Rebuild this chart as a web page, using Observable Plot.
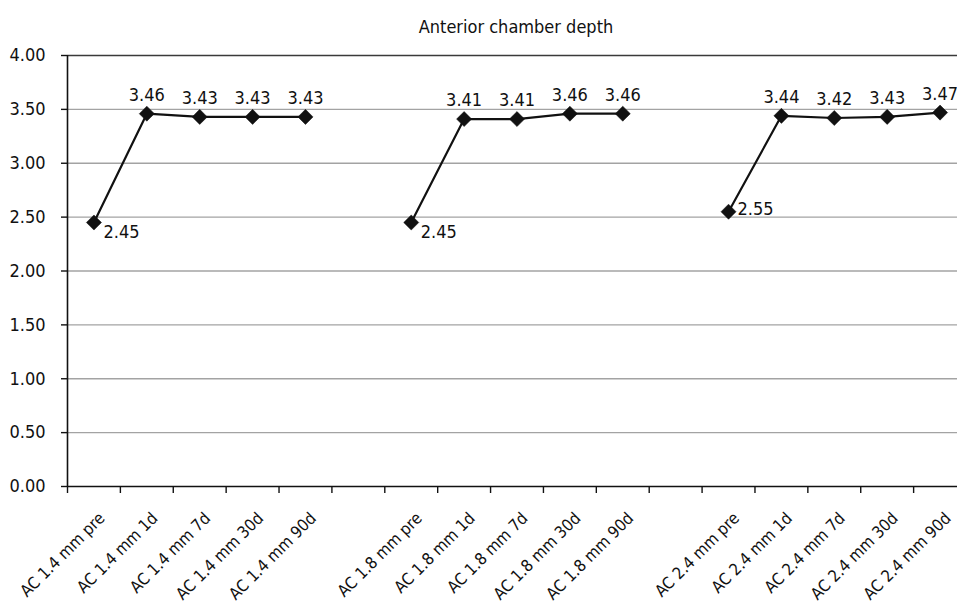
<!DOCTYPE html>
<html>
<head>
<meta charset="utf-8">
<script src="https://cdn.jsdelivr.net/npm/d3@7"></script>
<script src="https://cdn.jsdelivr.net/npm/@observablehq/plot@0.6"></script>
<style>
  html, body { margin: 0; padding: 0; background: #fff; overflow: hidden; }
  #title {
    height: 40px; box-sizing: border-box; padding-top: 16px; padding-left: 75px;
    text-align: center; font-family: "DejaVu Sans Condensed", "DejaVu Sans", sans-serif;
    font-stretch: condensed; font-size: 18px; line-height: 21px; color: #111; width: 957px;
  }
</style>
</head>
<body>
<div id="title">Anterior chamber depth</div>
<div id="chart"></div>
<script>
// ---- data ----
const groups = ["1.4", "1.8", "2.4"];
const timepoints = ["pre", "1d", "7d", "30d", "90d"];
const values14 = [2.45, 3.46, 3.43, 3.43, 3.43];
const values18 = [2.45, 3.41, 3.41, 3.46, 3.46];
const values24 = [2.55, 3.44, 3.42, 3.43, 3.47];
const yTicks = [0, 0.5, 1, 1.5, 2, 2.5, 3, 3.5, 4];
// where the "pre" value label sits, per group (style only)
const preLabelPlacement = {"1.4": "below", "1.8": "below", "2.4": "right"};

const seriesValues = [values14, values18, values24];
const rows = [];
groups.forEach((g, gi) => {
  timepoints.forEach((t, ti) => {
    rows.push({group: g, time: t, index: gi * 6 + ti, value: seriesValues[gi][ti], label: `AC ${g} mm ${t}`});
  });
});
const slotCount = groups.length * 6 - 1;
const boundaries = d3.range(slotCount + 1).map(i => i - 0.5);

const font = '"DejaVu Sans Condensed", "DejaVu Sans", sans-serif';
const ink = "#111";

const chart = Plot.plot({
  width: 957,
  height: 570,
  marginLeft: 67,
  marginRight: 0,
  marginTop: 15,
  marginBottom: 124,
  x: {domain: [-0.5, slotCount - 0.5], range: [67, 966], axis: null, label: null},
  y: {domain: [0, 4], axis: null, label: null},
  style: {fontFamily: font, fontSize: "18px", fontStretch: "condensed", color: ink, background: "#fff", overflow: "hidden"},
  marks: [
    Plot.ruleY(yTicks.filter(d => d > 0 && d < 4), {stroke: "#a3a3a3", strokeWidth: 1.4}),
    Plot.ruleY([4], {stroke: "#3a3a3a", strokeWidth: 1.6}),
    Plot.ruleY([0], {stroke: ink, strokeWidth: 1.6}),
    Plot.ruleX([-0.5], {y1: 0, y2: 4, stroke: ink, strokeWidth: 1.6}),
    Plot.axisY({ticks: yTicks, tickFormat: d => d.toFixed(2), tickSize: 6, tickPadding: 16, fontSize: 18, stroke: ink, strokeWidth: 1.4, label: null}),
    Plot.axisX({ticks: boundaries, tickFormat: () => "", tickSize: 7, stroke: ink, strokeWidth: 1.4, label: null}),
    Plot.line(rows, {x: "index", y: "value", z: "group", stroke: ink, strokeWidth: 2.2}),
    Plot.dot(rows, {x: "index", y: "value", symbol: "diamond2", r: 6.8, fill: ink, stroke: ink, strokeWidth: 0.5}),
    Plot.text(rows.filter(d => d.time !== "pre"), {x: "index", y: "value", text: d => d.value.toFixed(2), dy: -13, lineAnchor: "bottom", fill: ink, fontSize: 18}),
    Plot.text(rows.filter(d => d.time === "pre" && preLabelPlacement[d.group] === "below"), {x: "index", y: "value", text: d => d.value.toFixed(2), dx: 9.5, dy: 3, textAnchor: "start", lineAnchor: "top", fill: ink, fontSize: 18}),
    Plot.text(rows.filter(d => d.time === "pre" && preLabelPlacement[d.group] === "right"), {x: "index", y: "value", text: d => d.value.toFixed(2), dx: 9, dy: -3, textAnchor: "start", lineAnchor: "middle", fill: ink, fontSize: 18}),
    Plot.text(rows, {x: "index", text: "label", frameAnchor: "bottom", rotate: -45, textAnchor: "end", lineAnchor: "middle", dx: 8, dy: 29, fill: ink, fontSize: 16.5})
  ]
});
document.getElementById("chart").appendChild(chart);
</script>
</body>
</html>
